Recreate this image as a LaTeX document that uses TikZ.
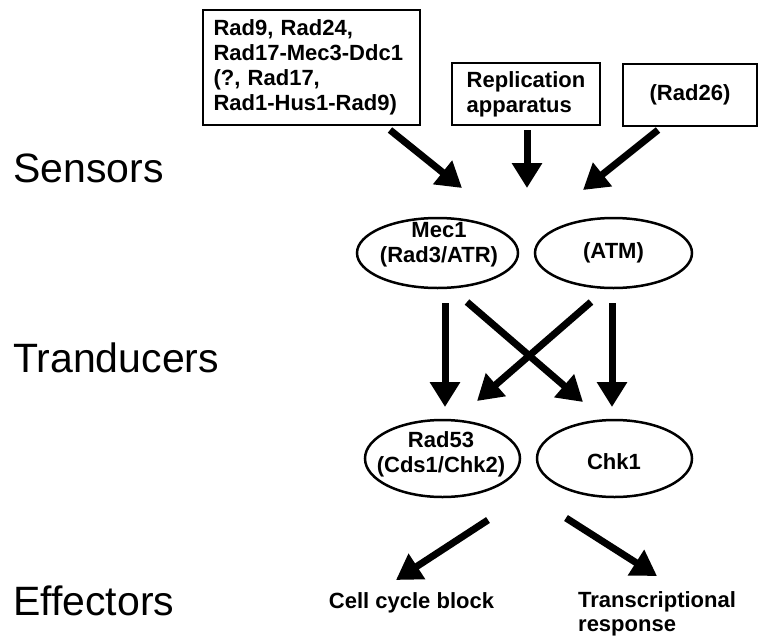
\documentclass[tikz,border=0pt]{standalone}
\usepackage{fontspec}
\setmainfont{Liberation Sans}
\usetikzlibrary{arrows.meta,shapes.geometric}
\begin{document}
\begin{tikzpicture}[x=1pt,y=-1pt,
  box/.style={draw, line width=2.5pt, rectangle, inner sep=0pt, font=\fontsize{22}{25}\selectfont\bfseries},
  oval/.style={draw, ellipse, line width=2.5pt, inner sep=0pt, font=\fontsize{22}{25}\selectfont\bfseries},
  lbl/.style={font=\fontsize{22}{25}\selectfont\bfseries, inner sep=0pt, align=center},
  big/.style={font=\fontsize{41}{49}\selectfont, inner sep=0pt, anchor=base west},
  arr/.style={line width=7pt, -{Triangle[length=25pt,width=29pt]}}
]
\useasboundingbox (0,0) rectangle (760,637);
% stage labels
\node[big] (sens) at (13,182) {Sensors};
\node[big] (trans) at (13,372) {Tranducers};
\node[big] (eff) at (13,615) {Effectors};
% sensor boxes
\node[box, minimum width=217, minimum height=115, text width=196, align=left] (b1) at (311.5,67.5)
  {Rad9, Rad24,\\Rad17-Mec3-Ddc1\\(?, Rad17,\\Rad1-Hus1-Rad9)};
\node[box, minimum width=148, minimum height=62, align=left] (b2) at (526,94) {Replication\\apparatus};
\node[box, minimum width=134, minimum height=62] (b3) at (690,95) {(Rad26)};
% kinases
\node[oval, minimum width=161, minimum height=70] (mec1) at (437.5,253) {};
\node[lbl] (mec1t) at (439,245) {Mec1\\(Rad3/ATR)};
\node[oval, minimum width=157, minimum height=70] (atm) at (613.5,253) {(ATM)};
\node[oval, minimum width=155, minimum height=77] (rad53) at (442.5,458.5) {};
\node[lbl] (rad53t) at (441,454) {Rad53\\(Cds1/Chk2)};
\node[oval, minimum width=155, minimum height=77] (chk1) at (614.5,458.5) {};
\node[lbl, anchor=base] (chk1t) at (614,469) {Chk1};
% effects
\node[lbl, anchor=base] (ccb) at (411.5,608) {Cell cycle block};
\node[lbl, align=left, anchor=north west, font=\fontsize{22}{24}\selectfont\bfseries] (tr) at (578,591) {Transcriptional\\response};
% arrow end points
\coordinate (a1s) at (390,130); \coordinate (a1e) at (462,188);
\coordinate (a2s) at (527,130); \coordinate (a2e) at (527,188);
\coordinate (a3s) at (658,130); \coordinate (a3e) at (583,190);
\coordinate (m1s) at (445,303); \coordinate (m1e) at (445,407);
\coordinate (m2s) at (467,302); \coordinate (m2e) at (583,402);
\coordinate (m3s) at (591,302); \coordinate (m3e) at (477,401);
\coordinate (m4s) at (612,303); \coordinate (m4e) at (612,407);
\coordinate (e1s) at (488,520); \coordinate (e1e) at (396,580);
\coordinate (e2s) at (566,518); \coordinate (e2e) at (657,576);
% arrows
\draw[arr] (a1s) -- (a1e);
\draw[arr] (a2s) -- (a2e);
\draw[arr] (a3s) -- (a3e);
\draw[arr] (m1s) -- (m1e);
\draw[arr] (m2s) -- (m2e);
\draw[arr] (m3s) -- (m3e);
\draw[arr] (m4s) -- (m4e);
\draw[arr] (e1s) -- (e1e);
\draw[arr] (e2s) -- (e2e);
\end{tikzpicture}
\end{document}
